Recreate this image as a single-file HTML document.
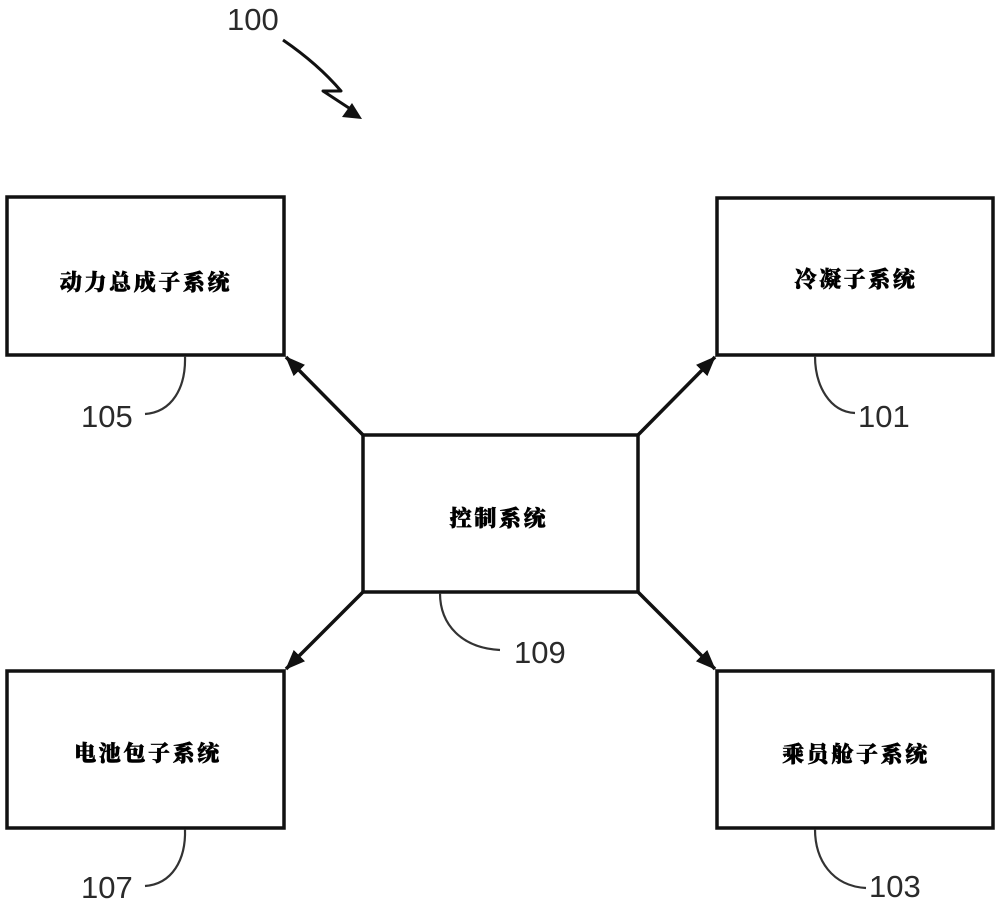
<!DOCTYPE html>
<html>
<head>
<meta charset="utf-8">
<style>
  html, body { margin:0; padding:0; background:#fff; }
  svg { display:block; }
  .lbl { font-family: "Liberation Serif", "Noto Serif CJK SC", serif; font-weight: 900; font-size: 22px; letter-spacing: 2.6px; fill:#000; stroke:#000; stroke-width:0.6px; }
  .num { font-family: "Liberation Sans", sans-serif; font-size: 31px; fill:#2a2a2a; }
</style>
</head>
<body>
<svg width="1000" height="905" viewBox="0 0 1000 905" xmlns="http://www.w3.org/2000/svg">
  <defs>
    <marker id="ah" markerUnits="userSpaceOnUse" markerWidth="22" markerHeight="18" refX="19" refY="8" orient="auto">
      <path d="M0,0 L20,8 L0,16 Z" fill="#111"/>
    </marker>
  </defs>

  <!-- Boxes -->
  <g fill="#fff" stroke="#111" stroke-width="3.5">
    <rect x="7" y="197" width="277" height="158"/>
    <rect x="717" y="198" width="276" height="157"/>
    <rect x="363" y="435" width="275" height="157"/>
    <rect x="7" y="671" width="277" height="157"/>
    <rect x="717" y="671" width="276" height="157"/>
  </g>

  <!-- Connector arrows -->
  <g stroke="#111" stroke-width="3.5" fill="none">
    <line x1="363" y1="435" x2="286" y2="357" marker-end="url(#ah)"/>
    <line x1="638" y1="435" x2="715" y2="357" marker-end="url(#ah)"/>
    <line x1="363" y1="592" x2="286" y2="669" marker-end="url(#ah)"/>
    <line x1="638" y1="592" x2="715" y2="669" marker-end="url(#ah)"/>
  </g>

  <!-- Labels -->
  <text class="lbl" x="146" y="290" text-anchor="middle">动力总成子系统</text>
  <text class="lbl" x="856" y="287" text-anchor="middle">冷凝子系统</text>
  <text class="lbl" x="499" y="526" text-anchor="middle">控制系统</text>
  <text class="lbl" x="148" y="761" text-anchor="middle">电池包子系统</text>
  <text class="lbl" x="856" y="762" text-anchor="middle">乘员舱子系统</text>

  <!-- Leader curves -->
  <g stroke="#333" stroke-width="2.2" fill="none">
    <path d="M185,356 C186,388 172,412 145,414"/>
    <path d="M815,356 C815,386 830,412 855,413"/>
    <path d="M440,593 C440,625 462,648 500,650"/>
    <path d="M185,829 C186,860 172,884 145,886"/>
    <path d="M815,829 C815,860 832,886 866,888"/>
  </g>

  <!-- Reference numerals -->
  <text class="num" x="81" y="427">105</text>
  <text class="num" x="858" y="427">101</text>
  <text class="num" x="514" y="663">109</text>
  <text class="num" x="81" y="898">107</text>
  <text class="num" x="869" y="897">103</text>
  <text class="num" x="227" y="30">100</text>

  <!-- 100 squiggle arrow -->
  <path d="M283,40 Q318,64 341,91 L323,91 L352,110" stroke="#111" stroke-width="3" fill="none" stroke-linejoin="round"/>
  <path d="M362,119 L342,117 L352,103 Z" fill="#111"/>
</svg>
</body>
</html>
